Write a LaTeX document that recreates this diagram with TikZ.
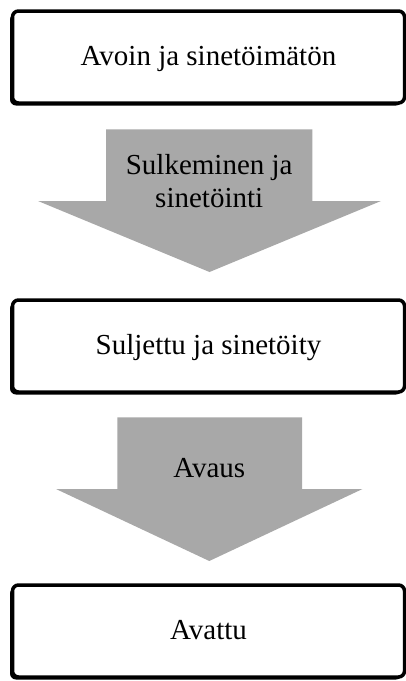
\documentclass[tikz,border=0pt]{standalone}
\usepackage{fontspec}
\setmainfont{Liberation Serif}
\usetikzlibrary{shadows}
\definecolor{arrowgray}{RGB}{168,168,168}
\tikzset{
  statebox/.style={rectangle,draw,line width=3.5pt,rounded corners=6pt,fill=white,
    minimum width=392pt,minimum height=92pt,inner sep=0pt,
    text height=21pt,text depth=5pt,
    drop shadow={shadow xshift=-2.5pt,shadow yshift=-2.5pt,fill=black,opacity=1}},
  steplabel/.style={align=center,inner sep=0pt}
}
\begin{document}
\begin{tikzpicture}[x=1pt,y=-1pt,font=\fontsize{29pt}{33pt}\selectfont]
  \useasboundingbox (0,0) rectangle (406,681);
  \node[statebox] (open) at (208.5,57) {Avoin ja sinetöimätön};
  \node[statebox] (sealed) at (208.5,346) {Suljettu ja sinetöity};
  \node[statebox] (opened) at (208.5,631) {Avattu};

  \fill[arrowgray] (106,129.3) -- (312.3,129.3) -- (312.3,201) -- (381,201)
    -- (209.5,272) -- (38,201) -- (106,201) -- cycle;
  \fill[arrowgray] (117.3,417.3) -- (302,417.3) -- (302,489) -- (362.5,489)
    -- (209.3,561) -- (56,489) -- (117.3,489) -- cycle;

  \node[steplabel] (close) at (209.2,181.5) {Sulkeminen ja\\sinetöinti};
  \node[steplabel,anchor=base] (unseal) at (209.3,477) {Avaus};
\end{tikzpicture}
\end{document}
